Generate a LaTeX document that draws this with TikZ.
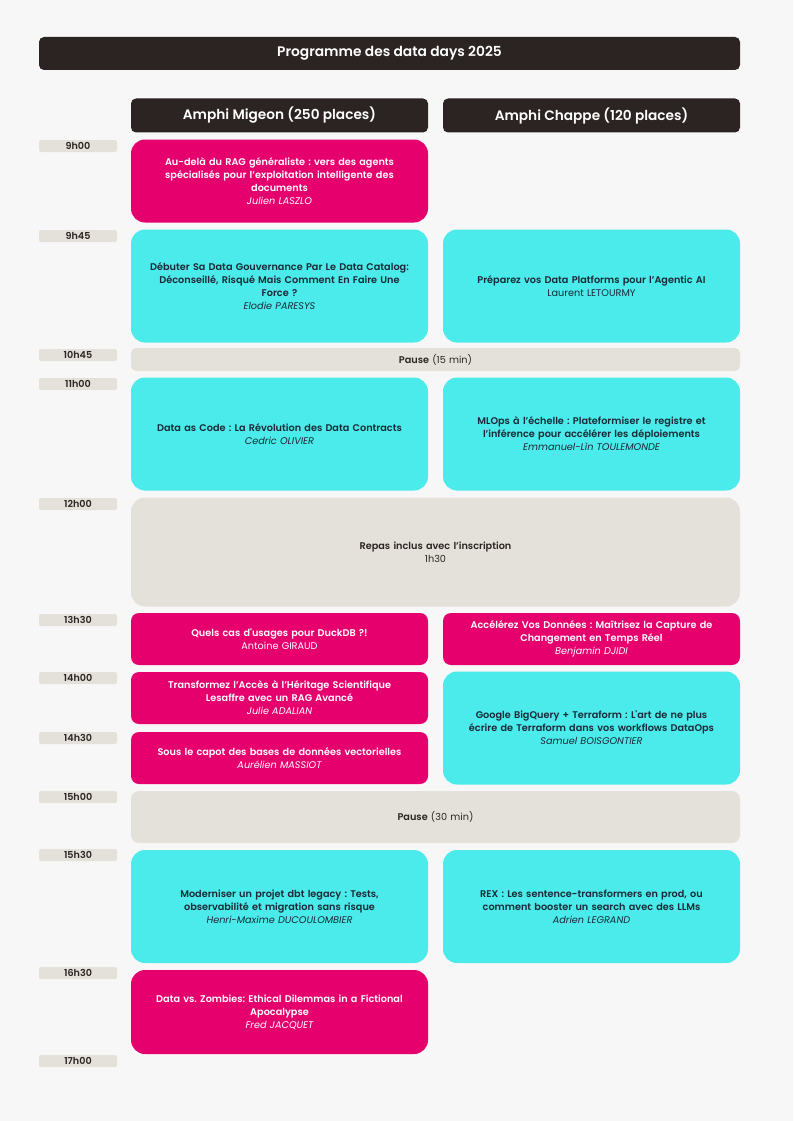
\documentclass[tikz,border=0pt]{standalone}
\usepackage{fontspec}
\setmainfont{Poppins}[BoldFont={Poppins SemiBold}]
\newfontfamily\plainq{Poppins}[BoldFont={Poppins SemiBold}]
\definecolor{cbg}{HTML}{F7F7F7}
\definecolor{cdark}{HTML}{2B2422}
\definecolor{cpink}{HTML}{E6006E}
\definecolor{ccyan}{HTML}{4BEBEB}
\definecolor{cgray}{HTML}{E4E1DB}
\definecolor{cnavy}{HTML}{1B2836}
\newcommand{\sq}{{\plainq'}}
\frenchspacing
\tikzset{
  sess/.style={inner sep=0pt, align=center, text width=#1, font=\fontsize{9.7}{13}\selectfont},
  sess/.default=290pt,
  pinkbox/.style={sess, fill=cpink, text=white},
  cyanbox/.style={sess, fill=ccyan, text=cnavy},
  graybox/.style={sess=600pt, fill=cgray, text=cdark},
  colw/.style={minimum width=297pt},
  fullw/.style={minimum width=609pt},
  bigr/.style={rounded corners=14pt},
  smallr/.style={rounded corners=8pt},
  timelab/.style={fill=cgray, minimum width=78pt, minimum height=12pt, inner sep=0pt, rounded corners=2pt, text=cdark, font=\fontsize{9.6}{10}\selectfont\bfseries},
  headbar/.style={fill=cdark, text=white, inner sep=0pt, rounded corners=5pt, minimum height=34pt},
}
\begin{document}
\begin{tikzpicture}[x=1pt,y=-1pt]
\fill[cbg] (0,0) rectangle (793,1121);
\useasboundingbox (0,0) rectangle (793,1121);

% title and column headers
\node[headbar, minimum width=701pt, minimum height=33pt, font=\fontsize{13.8}{15}\selectfont\bfseries] (title) at (389.5,53.5) {Programme des data days 2025};
\node[headbar, minimum width=297pt, font=\fontsize{13.7}{15}\selectfont\bfseries] (hleft) at (279.5,115.5) {Amphi Migeon (250 places)};
\node[headbar, minimum width=297pt, font=\fontsize{13.7}{15}\selectfont\bfseries] (hright) at (591.5,115.5) {Amphi Chappe (120 places)};

% time labels
\node[timelab] (t0900) at (78,146) {9h00};
\node[timelab] (t0945) at (78,236) {9h45};
\node[timelab] (t1045) at (78,355) {10h45};
\node[timelab] (t1100) at (78,384) {11h00};
\node[timelab] (t1200) at (78,504) {12h00};
\node[timelab] (t1330) at (78,620) {13h30};
\node[timelab] (t1400) at (78,678) {14h00};
\node[timelab] (t1430) at (78,738) {14h30};
\node[timelab] (t1500) at (78,797) {15h00};
\node[timelab] (t1530) at (78,855) {15h30};
\node[timelab] (t1630) at (78,973) {16h30};
\node[timelab] (t1700) at (78,1061) {17h00};

% sessions
\node[pinkbox, bigr, colw, minimum height=83pt] (s1) at (279.5,181) {{\bfseries Au-delà du RAG généraliste : vers des agents\\spécialisés pour l’exploitation intelligente des\\documents}\\\itshape Julien LASZLO};

\node[cyanbox, bigr, colw, minimum height=113pt] (s2) at (279.5,286) {{\bfseries Débuter Sa Data Gouvernance Par Le Data Catalog:\\Déconseillé, Risqué Mais Comment En Faire Une\\Force ?}\\\itshape Elodie PARESYS};
\node[cyanbox, bigr, colw, minimum height=113pt] (s3) at (591.5,286) {{\bfseries Préparez vos Data Platforms pour l’Agentic AI}\\Laurent LETOURMY};

\node[graybox, smallr, fullw, rounded corners=5pt, minimum height=23pt] (p1) at (435.5,359.5) {{\bfseries Pause} (15 min)};

\node[cyanbox, bigr, colw, minimum height=113pt] (s4) at (279.5,434) {{\bfseries Data as Code : La Révolution des Data Contracts}\\\itshape Cedric OLIVIER};
\node[cyanbox, bigr, colw, minimum height=113pt] (s5) at (591.5,434) {{\bfseries MLOps à l’échelle : Plateformiser le registre et\\l’inférence pour accélérer les déploiements}\\\itshape Emmanuel-Lìn TOULEMONDE};

\node[graybox, bigr, fullw, minimum height=109pt] (p2) at (435.5,552) {{\bfseries Repas inclus avec l’inscription}\\1h30};

\node[pinkbox, smallr, colw, minimum height=52pt] (s6) at (279.5,639) {{\bfseries Quels cas d\sq usages pour DuckDB ?!}\\Antoine GIRAUD};
\node[pinkbox, smallr, colw, minimum height=52pt] (s7) at (591.5,639) {{\bfseries Accélérez Vos Données : Maîtrisez la Capture de\\Changement en Temps Réel}\\\itshape Benjamin DJIDI};

\node[pinkbox, smallr, colw, minimum height=52pt] (s8) at (279.5,698) {{\bfseries Transformez l’Accès à l’Héritage Scientifique\\Lesaffre avec un RAG Avancé}\\\itshape Julie ADALIAN};
\node[cyanbox, bigr, colw, minimum height=113pt] (s9) at (591.5,728) {{\bfseries Google BigQuery + Terraform : L\sq art de ne plus\\écrire de Terraform dans vos workflows DataOps}\\\itshape Samuel BOISGONTIER};

\node[pinkbox, smallr, colw, minimum height=52pt] (s10) at (279.5,758) {{\bfseries Sous le capot des bases de données vectorielles}\\\itshape Aurélien MASSIOT};

\node[graybox, smallr, fullw, minimum height=52pt] (p3) at (435.5,817) {{\bfseries Pause} (30 min)};

\node[cyanbox, bigr, colw, minimum height=113pt] (s11) at (279.5,906.5) {{\bfseries Moderniser un projet dbt legacy : Tests,\\observabilité et migration sans risque}\\\itshape Henri-Maxime DUCOULOMBIER};
\node[cyanbox, bigr, colw, minimum height=113pt] (s12) at (591.5,906.5) {{\bfseries REX : Les sentence-transformers en prod, ou\\comment booster un search avec des LLMs}\\\itshape Adrien LEGRAND};

\node[pinkbox, bigr, colw, minimum height=84pt] (s13) at (279.5,1012) {{\bfseries Data vs. Zombies: Ethical Dilemmas in a Fictional\\Apocalypse}\\\itshape Fred JACQUET};
\end{tikzpicture}
\end{document}
